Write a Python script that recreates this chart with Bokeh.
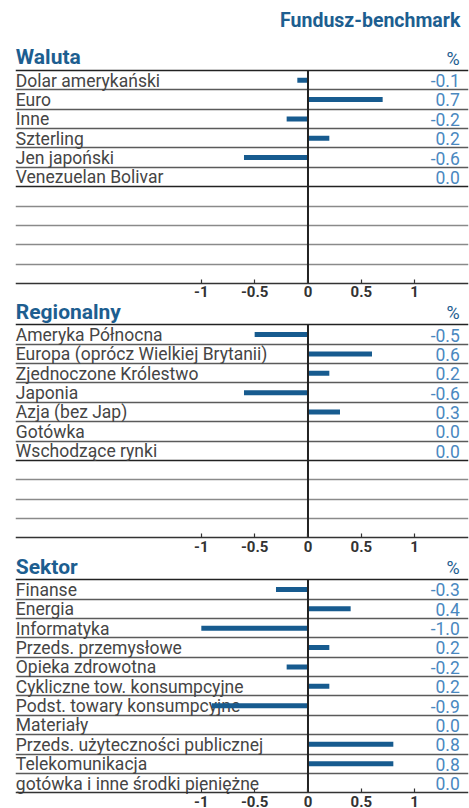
from bokeh.plotting import figure
from bokeh.models import Range1d, FixedTicker, CustomJSTickFormatter, LinearAxis
from bokeh.core.properties import value
from bokeh.embed import file_html
from bokeh.resources import INLINE

# ---------------- data ----------------
chart_title = "Fundusz-benchmark"
unit_label = "%"

waluta_header = "Waluta"
waluta_labels = ["Dolar amerykański", "Euro", "Inne", "Szterling",
                 "Jen japoński", "Venezuelan Bolivar"]
waluta_values = [-0.1, 0.7, -0.2, 0.2, -0.6, 0.0]

region_header = "Regionalny"
region_labels = ["Ameryka Północna", "Europa (oprócz Wielkiej Brytanii)",
                 "Zjednoczone Królestwo", "Japonia", "Azja (bez Jap)",
                 "Gotówka", "Wschodzące rynki"]
region_values = [-0.5, 0.6, 0.2, -0.6, 0.3, 0.0, 0.0]

sektor_header = "Sektor"
sektor_labels = ["Finanse", "Energia", "Informatyka", "Przeds. przemysłowe",
                 "Opieka zdrowotna", "Cykliczne tow. konsumpcyjne",
                 "Podst. towary konsumpcyjne", "Materiały",
                 "Przeds. użyteczności publicznej", "Telekomunikacja",
                 "gotówka i  inne środki pieniężne"]
sektor_values = [-0.3, 0.4, -1.0, 0.2, -0.2, 0.2, -0.9, 0.0, 0.8, 0.8, 0.0]

tick_values = [-1, -0.5, 0, 0.5, 1]

# ---------------- style / layout ----------------
BLUE_HEAD = "#1d5e90"
BLUE_BAR = "#175b8f"
BLUE_VAL = "#4a88bf"
TXT = "#454545"
FONT = "Roboto"

W, H = 469, 808
ROW_H = 19.36          # pixels per table row (y data unit = 1 px)
N_ROWS = 11
PANEL_TOPS = [70.0, 324.4, 579.3]
MID = 0.34             # em-box middle above the baseline, in em
TITLE_SIZE, HEAD_SIZE, PCT_SIZE, ROW_SIZE = 19.5, 21, 18, 17.5
TITLE_Y = 27.0 - MID * TITLE_SIZE
X_START, X_END = -2.742, 1.5047
X_VAL = 1.423

p = figure(width=W, height=H,
           x_range=Range1d(X_START, X_END), y_range=Range1d(H, 0),
           output_backend="svg", toolbar_location=None,
           x_axis_location=None, y_axis_location=None,
           min_border_left=15, min_border_right=1,
           min_border_top=0, min_border_bottom=0)
p.outline_line_color = None
p.xgrid.visible = False
p.ygrid.visible = False

p.text(x=[X_VAL + 0.005], y=[TITLE_Y], text=[chart_title],
       text_font=value(FONT), text_font_style="bold",
       text_font_size=f"{TITLE_SIZE}px", text_color=BLUE_HEAD,
       text_align="right", text_baseline="middle")

panels = [(waluta_header, waluta_labels, waluta_values),
          (region_header, region_labels, region_values),
          (sektor_header, sektor_labels, sektor_values)]

for top, (header, labels, values) in zip(PANEL_TOPS, panels):
    n = len(labels)
    axis_y = top + N_ROWS * ROW_H
    data_seps = [top + i * ROW_H for i in range(1, n)]
    empty_seps = [top + i * ROW_H for i in range(n + 1, N_ROWS)]
    dark = [top] + ([top + n * ROW_H] if n < N_ROWS else [])
    if data_seps:
        p.hspan(y=data_seps, line_color="#5a5a5a", line_width=1.3)
    if empty_seps:
        p.hspan(y=empty_seps, line_color="#8a8a8a", line_width=1.3)
    p.hspan(y=dark, line_color="#222222", line_width=1.5)

    p.text(x=[X_START + 0.003], y=[top - 6 - MID * HEAD_SIZE], text=[header],
           text_font=value(FONT), text_font_style="bold",
           text_font_size=f"{HEAD_SIZE}px", text_color=BLUE_HEAD,
           text_align="left", text_baseline="middle")
    p.text(x=[X_VAL], y=[top - 6 - MID * PCT_SIZE], text=[unit_label],
           text_font=value(FONT), text_font_size=f"{PCT_SIZE}px",
           text_color=BLUE_HEAD, text_align="right",
           text_baseline="middle")

    mids = [top + (i + 1) * ROW_H - 3.3 - MID * ROW_SIZE for i in range(n)]
    centers = [top + (i + 0.5) * ROW_H for i in range(n)]
    p.text(x=[X_START + 0.003] * n, y=mids, text=labels,
           text_font=value(FONT), text_font_size=f"{ROW_SIZE}px",
           text_color=TXT, text_align="left", text_baseline="middle")
    p.text(x=[X_VAL] * n, y=mids, text=[f"{v:.1f}" for v in values],
           text_font=value(FONT), text_font_size=f"{ROW_SIZE}px",
           text_color=BLUE_VAL, text_align="right",
           text_baseline="middle")

    p.hbar(y=centers, left=0, right=values, height=5,
           fill_color=BLUE_BAR, line_color=None)
    p.segment(x0=[0], x1=[0], y0=[top], y1=[axis_y],
              line_color="#222222", line_width=2)

    ax = LinearAxis(fixed_location=axis_y,
                    ticker=FixedTicker(ticks=tick_values),
                    formatter=CustomJSTickFormatter(code="return tick.toString();"))
    ax.major_tick_in = 4
    ax.major_tick_out = 0
    ax.minor_tick_line_color = None
    ax.axis_line_color = "#333333"
    ax.axis_line_width = 1.5
    ax.major_tick_line_color = "#333333"
    ax.major_tick_line_width = 1.2
    ax.major_label_standoff = 3
    ax.major_label_text_font = FONT
    ax.major_label_text_font_style = "bold"
    ax.major_label_text_font_size = "15px"
    ax.major_label_text_color = "#333333"
    p.add_layout(ax, "below")

open("out.html", "w").write(file_html(p, INLINE))
